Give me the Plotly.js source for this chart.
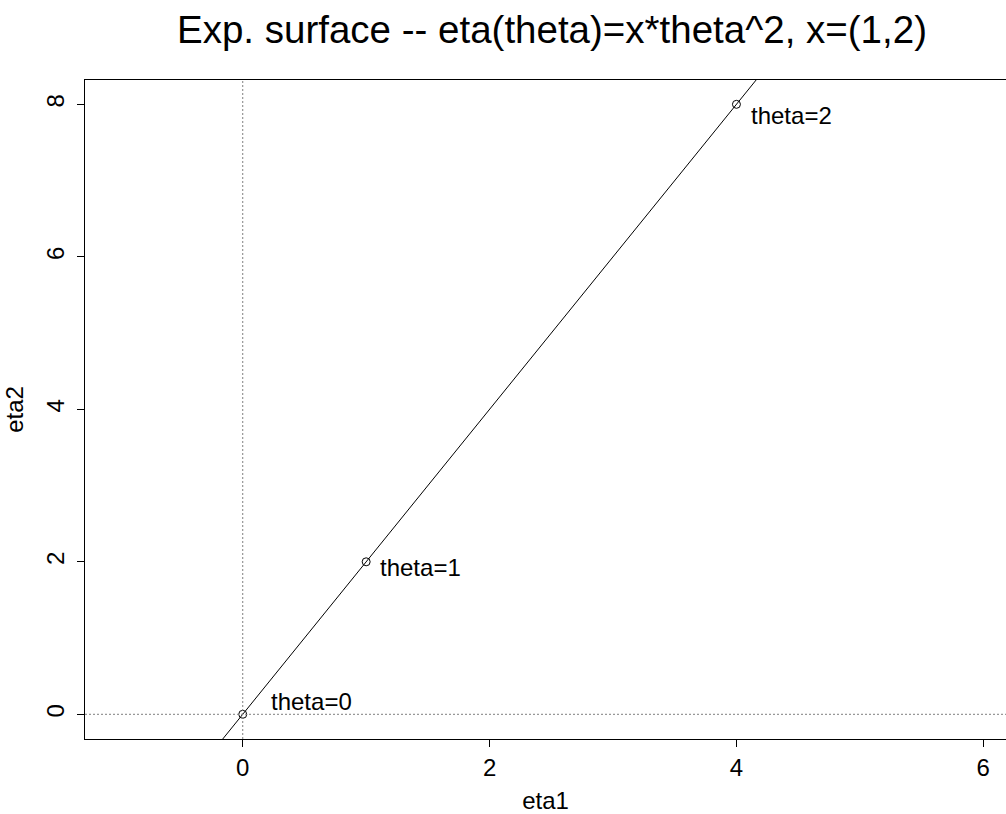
<!DOCTYPE html>
<html>
<head>
<meta charset="utf-8">
<script src="https://cdn.plot.ly/plotly-3.0.1.min.js"></script>
<style>html,body{margin:0;padding:0;background:#fff;}#chart{width:1006px;height:814px;}</style>
</head>
<body>
<div id="chart"></div>
<script>
// Points on the exponential-family surface eta(theta) = x*theta^2, x=(1,2)
var thetaValues = [0, 1, 2];
var eta1Values = [0, 1, 4];
var eta2Values = [0, 2, 8];
var pointLabels = ["theta=0", "theta=1", "theta=2"];
// label anchor positions (data units)
var labelEta1 = [0.235, 1.124, 4.124];
var labelEta2 = [0.174, 1.923, 7.856];
// the straight line eta2 = 2*eta1 drawn across the whole panel
var lineEta1 = [-1, 5];
var lineEta2 = [-2, 10];
var xTicks = [0, 2, 4, 6];
var yTicks = [0, 2, 4, 6, 8];

var FONT = "Liberation Sans, Arial, Helvetica, sans-serif";

var traces = [
  {x: lineEta1, y: lineEta2, mode: "lines", line: {color: "#000", width: 1}, hoverinfo: "skip", showlegend: false},
  {x: eta1Values, y: eta2Values, mode: "markers", marker: {symbol: "circle-open", size: 8, color: "#000", line: {width: 1, color: "#000"}}, text: pointLabels, showlegend: false}
];

var annotations = pointLabels.map(function (t, i) {
  return {x: labelEta1[i], y: labelEta2[i], xref: "x", yref: "y", text: t, showarrow: false,
    xanchor: "left", yanchor: "middle", xshift: -3, font: {family: FONT, size: 24, color: "#000"}};
});

var layout = {
  width: 1006, height: 814,
  margin: {l: 85, r: 0, t: 80, b: 75, pad: 0},
  paper_bgcolor: "#fff", plot_bgcolor: "#fff",
  font: {family: FONT, size: 24, color: "#000"},
  showlegend: false,
  title: {text: "Exp. surface -- eta(theta)=x*theta^2, x=(1,2)", font: {family: FONT, size: 38.5, color: "#000"},
    xref: "container", x: 552 / 1006, xanchor: "center", yref: "container", y: 1 - 30 / 814, yanchor: "middle"},
  xaxis: {range: [-1.278, 6.184], tickvals: xTicks, ticktext: xTicks.map(String), ticks: "outside", ticklen: 7, tickwidth: 1, tickcolor: "#000",
    showgrid: false, zeroline: false, showline: true, linecolor: "#000", linewidth: 1, mirror: true,
    tickfont: {family: FONT, size: 24, color: "#000"},
    title: {text: "eta1", font: {family: FONT, size: 24, color: "#000"}, standoff: 15}, automargin: false},
  yaxis: {range: [-0.324, 8.319], tickvals: yTicks, ticktext: yTicks.map(String), ticks: "outside", ticklen: 7, tickwidth: 1, tickcolor: "#000",
    tickangle: -90, ticklabelstandoff: 3,
    showgrid: false, zeroline: false, showline: true, linecolor: "#000", linewidth: 1, mirror: false,
    tickfont: {family: FONT, size: 24, color: "#000"},
    title: {text: "eta2", font: {family: FONT, size: 24, color: "#000"}, standoff: 12}, automargin: false},
  shapes: [
    {type: "line", xref: "x", yref: "paper", x0: 0, x1: 0, y0: 0, y1: 1, line: {color: "#7f7f7f", width: 1, dash: "2px,2px"}},
    {type: "line", xref: "paper", yref: "y", x0: 0, x1: 1, y0: 0, y1: 0, line: {color: "#7f7f7f", width: 1, dash: "2px,2px"}}
  ],
  annotations: annotations
};

Plotly.newPlot("chart", traces, layout, {displayModeBar: false, staticPlot: true});
</script>
</body>
</html>
